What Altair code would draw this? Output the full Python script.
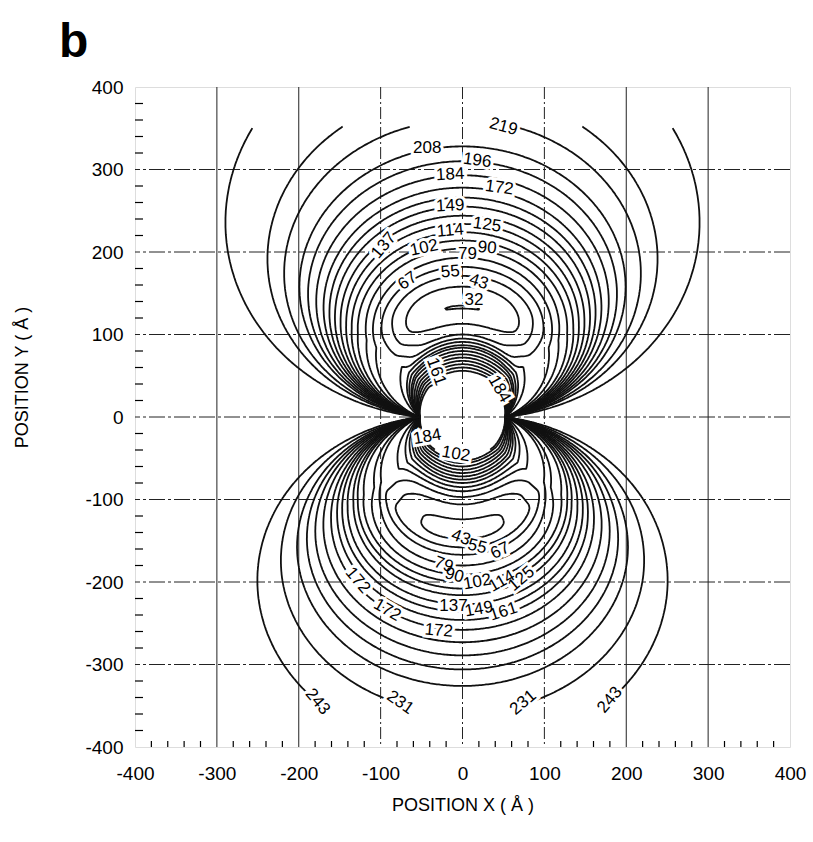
import numpy as np
import pandas as pd
import altair as alt

FONT = "Liberation Sans"

# Contour levels printed on the map
LEVELS = [32, 43, 55, 67, 79, 90, 102, 114, 125, 137, 149, 161, 172, 184, 196, 208, 219, 231, 243]
INNER_LEVELS = LEVELS[1:14]          # 43 .. 184 also close in between the core and the minimum

# Crossings of the x = 0 axis (|y| in Angstrom) for each lobe
UPPER_MIN_VALUE, UPPER_MIN_Y = 31.9, 133
UPPER_OUTER_Y = [158, 171, 182, 193, 204, 214, 224, 234, 244, 255, 266, 278, 293, 310, 328, 360, 395, 483]
UPPER_INNER_Y = [113, 100, 95, 91, 87, 84, 80, 76, 72, 68, 64, 60, 56]

LOWER_MIN_VALUE, LOWER_MIN_Y = 41, 135
LOWER_OUTER_Y = [148, 158, 167, 180, 191, 200, 208, 216, 227, 236, 246, 258, 273, 289, 306, 326, 359, 407]
LOWER_INNER_Y = [124, 106, 97, 90, 85, 80, 76, 72, 68, 64, 60, 56, 53]

CORE_RADIUS = 52      # central particle
CORE_VALUE = 190      # value on the particle surface
FAR_VALUE, FAR_Y = 320, 900

# lobe shape parameters: lateral stretch, side lift of the minimum valley
UPPER_SHAPE = dict(kx=1.17, hmax=66, c0=0.75, width=60, ylim=352)
LOWER_SHAPE = dict(kx=1.20, hmax=64, c0=0.75, width=60, ylim=350)
X_LIMIT = 300

# contour labels: text, x, y, rotation (deg, clockwise)
LABEL_TEXT = ["219", "208", "196", "184", "172", "149", "125", "114", "137", "102", "79", "90",
              "67", "55", "43", "32", "161", "184",
              "184", "102", "43", "55", "67", "79", "90", "102", "114", "125", "137", "149", "161",
              "172", "172", "172", "231", "243", "231", "243"]
LABEL_X = [50, -43, 18, -15, 45, -15, 30, -15, -96, -47, 6, 30,
           -67, -15, 20, 14, -32, 45,
           -43, -8, -2, 18, 46, -23, -10, 18, 48, 72, -11, 20, 50,
           -128, -92, -29, -76, -177, 74, 180]
LABEL_Y = [352, 326, 311, 294, 278, 256, 233, 226, 208, 205, 198, 205,
           165, 176, 164, 142, 55, 34,
           -24, -45, -146, -157, -162, -179, -192, -200, -199, -196, -229, -233, -236,
           -198, -234, -259, -346, -345, -346, -343]
LABEL_ANGLE = [15, 0, 8, -3, 8, -3, 8, -5, -50, -12, 0, 5,
               -35, -5, 18, 0, 70, 60,
               -10, 10, 20, 15, -25, 20, 15, -10, -30, -40, 0, -10, -18,
               50, 30, 5, 35, 50, -40, -50]

GRID_SOLID_X = [-300, -200, 200, 300]
GRID_DASH_X = [-100, 0, 100]
GRID_Y = [-300, -200, -100, 0, 100, 200, 300]
MINOR = [v for v in range(-380, 400, 20) if v % 100 != 0]

W, H = 655, 660

# ---------------------------------------------------------------- contours
phi = np.pi * (1 - np.cos(np.linspace(0, np.pi, 901))) / 2
r_grid = np.arange(0, 460, 0.25)


def hermite_profile(yq, ys, vs):
    """Monotone cubic (Fritsch-Carlson) through the axis crossings."""
    ys = np.asarray(ys, float)
    vs = np.asarray(vs, float)
    d = np.diff(vs) / np.diff(ys)
    m = np.empty_like(vs)
    m[0], m[-1] = d[0], d[-1]
    m[1:-1] = (d[:-1] + d[1:]) / 2
    m[1:-1][d[:-1] * d[1:] <= 0] = 0
    for k in range(len(d)):
        if d[k] == 0:
            m[k] = m[k + 1] = 0
            continue
        al, be = m[k] / d[k], m[k + 1] / d[k]
        s = al * al + be * be
        if s > 9:
            tau = 3 / np.sqrt(s)
            m[k], m[k + 1] = tau * al * d[k], tau * be * d[k]
    yq = np.clip(yq, ys[0], ys[-1])
    i = np.clip(np.searchsorted(ys, yq) - 1, 0, len(ys) - 2)
    h = ys[i + 1] - ys[i]
    t = (yq - ys[i]) / h
    return ((2 * t ** 3 - 3 * t ** 2 + 1) * vs[i] + (t ** 3 - 2 * t ** 2 + t) * h * m[i]
            + (-2 * t ** 3 + 3 * t ** 2) * vs[i + 1] + (t ** 3 - t ** 2) * h * m[i + 1])


def lobe_curves(min_v, min_y, outer_y, inner_y, shape, sign):
    a = CORE_RADIUS
    y_axis = np.concatenate([[a], inner_y[::-1], [min_y], outer_y, [FAR_Y]]).astype(float)
    v_axis = np.concatenate([[CORE_VALUE], INNER_LEVELS[::-1], [min_v], LEVELS[1:], [FAR_VALUE]]).astype(float)
    r0 = (min_y - a) / 2
    fa = hermite_profile(a + 2 * r_grid, y_axis, v_axis)
    w = np.where(r_grid <= r0, 1.0, np.exp(-((r_grid - r0) / shape["width"]) ** 2))
    lift = shape["hmax"] * np.clip(np.abs(np.cos(phi)) / shape["c0"], 0, 1) ** 2
    field = np.sqrt(fa[None, :] ** 2 + (lift[:, None] * w[None, :]) ** 2)
    i0 = int(np.argmin(fa))
    branches = [(field[:, i0:], r_grid[i0:]), (field[:, i0::-1], r_grid[i0::-1])]
    rows = np.arange(len(phi))
    s, co = np.sin(phi), np.cos(phi)

    def cross(fb, rb, c):
        hit = fb >= c
        idx = hit.argmax(axis=1)
        ok = hit.any(axis=1) & (idx > 0)
        j = np.clip(idx, 1, None)
        f1, f2 = fb[rows, j - 1], fb[rows, j]
        dd = np.where(f2 - f1 == 0, 1, f2 - f1)
        t = np.clip((c - f1) / dd, 0, 1)
        return rb[j - 1] + t * (rb[j] - rb[j - 1]), ok

    def points(R):
        return a * co + shape["kx"] * 2 * R * s * co, sign * (a * s + 2 * R * s * s)

    curves = []
    for c in LEVELS:
        ro, oko = cross(*branches[0], c)
        ri, oki = cross(*branches[1], c)
        xo, yo = points(ro)
        xi, yi = points(ri)
        if oko[0]:
            curves.append((xo, yo))
            idx = np.flatnonzero(oki)
            if idx.size:
                for run in np.split(idx, np.flatnonzero(np.diff(idx) > 1) + 1):
                    if run.size > 1:
                        curves.append((xi[run], yi[run]))
        else:
            idx = np.flatnonzero(oko & oki)
            if idx.size < 2:
                continue
            lx = np.concatenate([xo[idx], xi[idx][::-1], xo[idx][:1]])
            ly = np.concatenate([yo[idx], yi[idx][::-1], yo[idx][:1]])
            curves.append((lx, ly))
    return curves, shape["ylim"]


rows_out = []
seg = 0
for args, sign in [((UPPER_MIN_VALUE, UPPER_MIN_Y, UPPER_OUTER_Y, UPPER_INNER_Y, UPPER_SHAPE), 1),
                   ((LOWER_MIN_VALUE, LOWER_MIN_Y, LOWER_OUTER_Y, LOWER_INNER_Y, LOWER_SHAPE), -1)]:
    curves, ylim = lobe_curves(*args, sign)
    for cx, cy in curves:
        inside = (np.abs(cx) <= X_LIMIT) & (np.abs(cy) <= ylim)
        idx = np.flatnonzero(inside)
        if idx.size < 2:
            continue
        for run in np.split(idx, np.flatnonzero(np.diff(idx) > 1) + 1):
            if run.size < 2:
                continue
            px, py = cx[run], cy[run]
            keep = [0]
            for k in range(1, len(px)):
                if np.hypot(px[k] - px[keep[-1]], py[k] - py[keep[-1]]) >= 1.2 or k == len(px) - 1:
                    keep.append(k)
            for order, k in enumerate(keep):
                rows_out.append((round(float(px[k]), 1), round(float(py[k]), 1), seg, order))
            seg += 1

contours = pd.DataFrame(rows_out, columns=["x", "y", "seg", "i"])

labels = pd.DataFrame({"x": LABEL_X, "y": LABEL_Y, "text": LABEL_TEXT,
                       "angle": [(v + 360) % 360 for v in LABEL_ANGLE]})

# ---------------------------------------------------------------- chart
xscale = alt.Scale(domain=[-400, 400], nice=False, zero=False)
yscale = alt.Scale(domain=[-400, 400], nice=False, zero=False)
xaxis = alt.Axis(values=list(range(-400, 401, 100)), title="POSITION X  ( Å )", grid=False, ticks=False,
                 domain=False, labelFont=FONT, labelFontSize=19, labelPadding=17, labelColor="black",
                 labelExpr="'' + datum.value",
                 titleFont=FONT, titleFontSize=18, titleFontWeight="normal", titleColor="black",
                 titleX=W / 2, titleY=58, titleBaseline="middle", labelFlush=False)
yaxis = alt.Axis(values=list(range(-400, 401, 100)), title="POSITION Y  ( Å )", grid=False, ticks=False,
                 domain=False, labelFont=FONT, labelFontSize=19, labelPadding=12, labelColor="black",
                 labelExpr="'' + datum.value",
                 titleFont=FONT, titleFontSize=18, titleFontWeight="normal", titleColor="black",
                 titleX=-113, titleY=290, titleBaseline="middle", titleAngle=270, labelFlush=False)
X = alt.X("x:Q", scale=xscale, axis=xaxis)
Y = alt.Y("y:Q", scale=yscale, axis=yaxis)

grid_solid = alt.Chart(pd.DataFrame({"x": GRID_SOLID_X})).mark_rule(
    color="#222", strokeWidth=1).encode(x=X)
grid_dash = alt.Chart(pd.DataFrame({"x": GRID_DASH_X})).mark_rule(
    color="#222", strokeWidth=1, strokeDash=[12, 3, 2, 3]).encode(x=X)
grid_h = alt.Chart(pd.DataFrame({"y": GRID_Y})).mark_rule(
    color="#222", strokeWidth=1, strokeDash=[16, 3, 3, 3]).encode(y=Y)

ticks_left = alt.Chart(pd.DataFrame({"y": MINOR})).mark_rule(color="black", strokeWidth=1.2).encode(
    y=Y, x=alt.value(0), x2=alt.value(8))
ticks_bottom = alt.Chart(pd.DataFrame({"x": MINOR})).mark_rule(color="black", strokeWidth=1.2).encode(
    x=X, y=alt.value(H), y2=alt.value(H - 6))

lines = alt.Chart(contours).mark_line(color="#111", strokeWidth=1.8).encode(
    x=X, y=Y, detail="seg:N", order="i:Q")

halo = alt.Chart(labels).mark_text(font=FONT, fontSize=17, stroke="white", strokeWidth=6,
                                   fill="white").encode(x=X, y=Y, text="text:N",
                                                        angle=alt.Angle("angle:Q", scale=None))
text = alt.Chart(labels).mark_text(font=FONT, fontSize=17, color="black").encode(
    x=X, y=Y, text="text:N", angle=alt.Angle("angle:Q", scale=None))

panel = alt.Chart(pd.DataFrame({"t": ["b"]})).mark_text(
    font=FONT, fontSize=48, fontWeight="bold", align="left", baseline="alphabetic", color="black"
).encode(text="t:N", x=alt.value(-76), y=alt.value(-30))

chart = alt.layer(grid_solid, grid_dash, grid_h, lines, halo, text, ticks_left, ticks_bottom, panel).properties(
    width=W, height=H,
    autosize=alt.AutoSizeParams(type="none"),
    padding={"left": 135, "top": 87, "right": 23, "bottom": 95},
).configure_view(stroke="black", strokeWidth=1.5).configure(background="white")

chart.save("out.html", embed_options={"renderer": "svg", "actions": False})
